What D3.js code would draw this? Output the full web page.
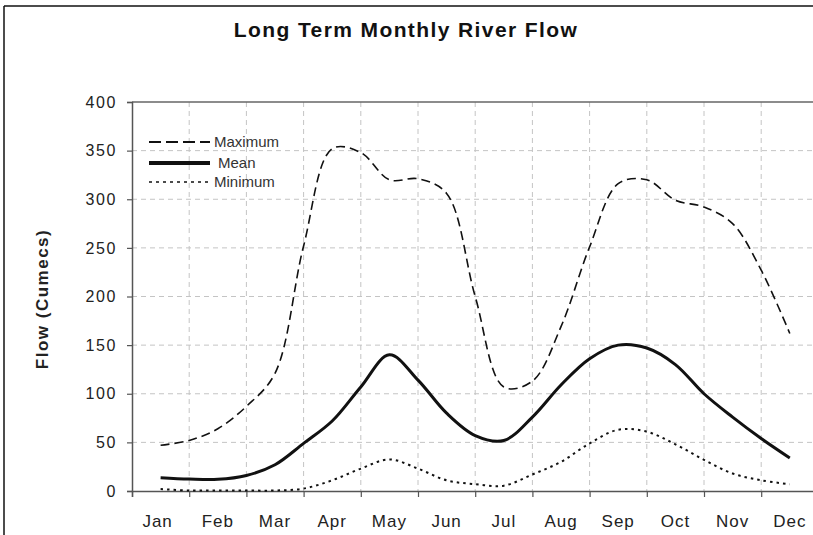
<!DOCTYPE html>
<html>
<head>
<meta charset="utf-8">
<script src="https://cdn.jsdelivr.net/npm/d3@7"></script>
<style>
  html, body { margin: 0; padding: 0; background: #fff; }
  svg { display: block; font-family: "Liberation Sans", Arial, sans-serif; }
</style>
</head>
<body>
<svg id="chart" width="813" height="535"></svg>
<script>
// ---- Data (values read at half-month steps, starting at mid-January) ----
const months = ["Jan","Feb","Mar","Apr","May","Jun","Jul","Aug","Sep","Oct","Nov","Dec"];
const yTicks = [0, 50, 100, 150, 200, 250, 300, 350, 400];
const maximumFlow = [47, 52, 64, 87, 121, 252, 352, 348, 320, 321, 306, 200, 107, 113, 169, 251, 316, 320, 299, 292, 275, 227, 162];
const meanFlow    = [13.7, 12.3, 12, 16, 27, 49, 72, 107, 140, 114, 80, 57, 52, 76, 109, 136, 150, 147, 130, 100, 76, 54, 34];
const minimumFlow = [2, 0.5, 0.5, 0.5, 0.5, 2.5, 11, 23, 32.5, 23, 11, 7, 5.5, 17, 30, 49, 63, 61, 48, 32, 18, 11, 7];
const seriesNames = ["Maximum", "Mean", "Minimum"];

(function () {
const svg = d3.select("#chart");
const W = 813, H = 535;
const pLeft = 132, pTop = 102, pBottom = 491, step = 57.2;
const x = d3.scaleLinear().domain([0, 12]).range([pLeft, pLeft + 12 * step]);
const y = d3.scaleLinear().domain([0, 400]).range([pBottom, pTop]);
const tOf = i => 0.5 + i * 0.5;

// outer frame
svg.append("line").attr("x1", 4).attr("x2", W).attr("y1", 6).attr("y2", 6).attr("stroke", "#111").attr("stroke-width", 1.5);
svg.append("line").attr("x1", 4).attr("x2", 4).attr("y1", 6).attr("y2", H).attr("stroke", "#111").attr("stroke-width", 1.5);

// title
svg.append("text").attr("x", 406).attr("y", 37).attr("text-anchor", "middle")
  .attr("font-size", 21).attr("font-weight", "bold").attr("letter-spacing", 1.4).attr("fill", "#111")
  .text("Long Term Monthly River Flow");

// gridlines
const grid = svg.append("g").attr("stroke", "#c4c4c4").attr("stroke-width", 1).attr("stroke-dasharray", "5,4");
yTicks.filter(v => v > 0 && v < 400).forEach(v => {
  grid.append("line").attr("x1", pLeft).attr("x2", W).attr("y1", y(v)).attr("y2", y(v));
});
d3.range(1, 12).forEach(k => {
  grid.append("line").attr("x1", x(k)).attr("x2", x(k)).attr("y1", pTop).attr("y2", pBottom);
});

// top border
svg.append("line").attr("x1", pLeft).attr("x2", W).attr("y1", pTop).attr("y2", pTop).attr("stroke", "#666").attr("stroke-width", 1.5);

// y axis
const yAxis = d3.axisLeft(y).tickValues(yTicks).tickSize(5).tickPadding(10);
const gy = svg.append("g").attr("transform", `translate(${pLeft},0)`).call(yAxis);
gy.select(".domain").attr("stroke", "#555").attr("stroke-width", 1.5);
gy.selectAll(".tick line").attr("stroke", "#555").attr("stroke-width", 1.2);
gy.selectAll(".tick text").attr("font-size", 16).attr("letter-spacing", 1.6).attr("fill", "#222")
  .attr("font-family", "Liberation Sans, Arial, sans-serif");

// x axis
const xAxis = d3.axisBottom(x).tickValues(d3.range(0, 12)).tickSize(6).tickFormat("");
const gx = svg.append("g").attr("transform", `translate(0,${pBottom})`).call(xAxis);
gx.select(".domain").attr("stroke", "#555").attr("stroke-width", 1.5);
gx.selectAll(".tick line").attr("stroke", "#555").attr("stroke-width", 1.2);
svg.append("g").selectAll("text").data(months).join("text")
  .attr("x", (d, i) => x(i + 0.5) - (i === 0 ? 3 : 0))
  .attr("y", 527).attr("text-anchor", "middle").attr("font-size", 17).attr("letter-spacing", 1).attr("fill", "#222")
  .text(d => d);

// y axis title
svg.append("text").attr("transform", "translate(48,299) rotate(-90)").attr("text-anchor", "middle")
  .attr("font-size", 17).attr("font-weight", "bold").attr("letter-spacing", 1.5).attr("fill", "#222")
  .text("Flow (Cumecs)");

// lines
const line = d3.line().x((d, i) => x(tOf(i))).y(d => y(d)).curve(d3.curveCatmullRom.alpha(0.5));
const styles = [
  { data: maximumFlow, w: 1.6, dash: "9,5" },
  { data: meanFlow, w: 3, dash: null },
  { data: minimumFlow, w: 2, dash: "2.5,4" }
];
styles.forEach(s => {
  svg.append("path").attr("d", line(s.data)).attr("fill", "none").attr("stroke", "#111")
    .attr("stroke-width", s.w).attr("stroke-dasharray", s.dash);
});

// legend
const legend = [
  { name: seriesNames[0], y: 142, w: 2.2, dash: "12,5", tx: 214 },
  { name: seriesNames[1], y: 163, w: 4, dash: null, tx: 218 },
  { name: seriesNames[2], y: 182, w: 1.6, dash: "3,4", tx: 214 }
];
legend.forEach(l => {
  svg.append("line").attr("x1", 149).attr("x2", 210).attr("y1", l.y).attr("y2", l.y)
    .attr("stroke", "#111").attr("stroke-width", l.w).attr("stroke-dasharray", l.dash);
  svg.append("text").attr("x", l.tx).attr("y", l.y + 5).attr("font-size", 15).attr("fill", "#333").text(l.name);
});
})();
</script>
</body>
</html>
